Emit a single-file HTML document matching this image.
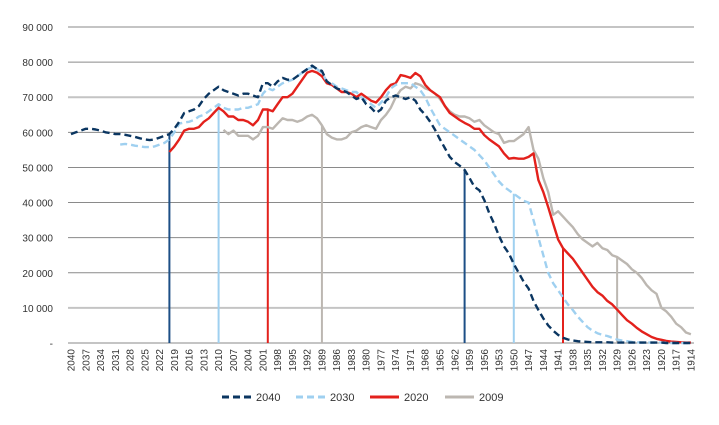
<!DOCTYPE html>
<html><head><meta charset="utf-8"><style>
html,body{margin:0;padding:0;background:#fff;}
svg{display:block;font-family:"Liberation Sans",sans-serif;}
</style></head><body>
<svg id="chart" width="719" height="425" viewBox="0 0 719 425"></svg>
<script>
const yTicks=[0,10,20,30,40,50,60,70,80,90];
const yTickLabels=["-","10 000","20 000","30 000","40 000","50 000","60 000","70 000","80 000","90 000"];
const seriesNames=["2040","2030","2020","2009"];
const seriesColors=["#0b3661","#9fd0f0","#e3211c","#bcb7b1"];
const seriesStart=[2040,2030,2020,2009];
const s2040=[59.5,60,60.5,61,61,60.8,60.5,60,59.8,59.5,59.5,59.3,59,58.7,58.3,58,57.8,58,58.5,59,
59.5,61,63,65.5,66,66.5,67.5,69.5,71,72,73,72,71.5,71,70.5,71,71,70.5,70,74,
74,73,74.5,75.5,75,75,76,77,78,79,78,77.5,74.5,73.5,72.5,72,71.5,70.5,69.5,70,
68,67,65.5,66.5,69,70,70.5,70,69.5,70,69,66.5,65,63,60.7,58,55.5,53,51.5,50.5,
49.3,47,44.5,43.5,40.7,37,34,30.5,27.5,25.5,22.5,20,17.5,15.5,12,9.4,7,5,3.5,2.3,
1.5,1,0.7,0.5,0.4,0.3,0.2,0.2,0.2,0.2,0.1,0.1,0.1,0.1,0.1,0.1,0.1,0.1,0.1,0.1,0.1,0,0,0,0,0,0];
const s2030=[56.5,56.7,56.5,56.2,56,55.8,55.8,56,56.5,57,
58,60,62.5,62.8,63,63.5,64.5,65,66,67,68,67,66.5,66.5,66.5,67,67,67.5,68,71,
72.5,72,73,74,74.5,75,76,77,78,78.5,78,77,74.5,74,73,72.5,72,71.5,71.5,70,
69,68,67,68.5,70,72.5,73.5,74,74,74,73,72,70,67,64.5,62,61,60,59,58,
57,56,55,53.5,52,50,48,46,44.5,43.5,42.5,41.5,40.5,40,35,30,25,20,17,15,
13,11,9.4,7.5,6,4.5,3.5,2.8,2.3,2,1.5,1,0.7,0.5,0.3,0.2,0.1,0.1,0.1,0.1,0.1,0.1,0,0,0,0,0];
const s2020=[54.4,56,58,60.5,61,61,61.5,63,64,65.5,67,66,64.5,64.5,63.5,63.5,63,62,63.5,66.5,
66.5,66,68,70,70,71,73,75,77,77.5,77,76,74,73.5,72.5,71.5,71.5,71,70,71,
70,69,68.5,70,72,73.5,74,76.3,76,75.5,76.9,76,73.5,72,71,70,67.5,65.5,64.5,63.5,
62.7,62,61,61,59.2,58,57,56,54,52.5,52.7,52.5,52.5,53,54,46.4,43,38.7,34,29.5,
27,25.5,24,22,20,18,16,14.5,13.5,12,11,9.5,8,6.5,5.5,4.3,3.3,2.5,1.7,1.2,0.9,0.6,0.4,0.3,0.2,0.1,0.1];
const s2009=[60.7,59.5,60.5,59,59,59,58,59,61.5,61.5,61,62.5,64,63.5,63.5,63,63.5,64.5,65,64,
62,59.5,58.5,58,58,58.5,60,60.5,61.5,62,61.5,61,63.5,65,67,70,72,73,72.5,74,
73.5,72.5,72,71,69.5,67.5,66,65,64.5,64.5,64,63,63.5,62,61,60,59.5,57,57.5,57.5,
58.5,59.5,61.5,55,52.5,47,43,36.5,37.5,36,34.5,33,31,29.5,28.5,27.5,28.5,27,26.5,25,
24.5,23.5,22.5,21,20,18.5,16.5,15,14,10,9,7.5,5.5,4.5,3,2.5];
const seriesValues=[s2040,s2030,s2020,s2009];
const firstYear=2040,lastYear=1914;

const NS="http://www.w3.org/2000/svg";
const svg=document.getElementById('chart');
const X0=71,XSTEP=4.92,PL=68,PR=694,Y0=343,YH=316,YMAX=90;
function xs(yr){return X0+(firstYear-yr)*XSTEP;}
function ys(v){return Y0-v/YMAX*YH;}
function mk(tag,attrs,parent){const e=document.createElementNS(NS,tag);for(const k in attrs)e.setAttribute(k,attrs[k]);(parent||svg).appendChild(e);return e;}

yTicks.forEach((t,i)=>{
  const light=(t===10||t===70);
  const g=mk('line',{x1:PL,x2:PR,y1:ys(t),y2:ys(t),stroke:light?'#c4c4c4':'#8a8a8a','stroke-width':light?2:1});
  
  
  const tx=mk('text',{x:53,y:ys(t)+4,'text-anchor':'end','font-size':10,fill:'#333'});
  tx.textContent=yTickLabels[i];
  
  
});
for(let yr=firstYear;yr>=lastYear;yr-=3){
  const x=xs(yr);
  const tx=mk('text',{x:0,y:0,'text-anchor':'end','font-size':10,fill:'#333',transform:`translate(${x+3.5},349) rotate(-90)`});
  tx.textContent=yr;
  
  
}
seriesNames.forEach((n,si)=>{
  [20,80].forEach(age=>{
    const yr=seriesStart[si]-age;
    const v=seriesValues[si][seriesStart[si]-yr];
    const l=mk('line',{x1:xs(yr),x2:xs(yr),y1:Y0,y2:ys(v),stroke:si===0?'#1d4f86':seriesColors[si],'stroke-width':2});
    
    
  });
});
[3,2,1,0].forEach(si=>{
  const pts=seriesValues[si].map((v,i)=>xs(seriesStart[si]-i).toFixed(1)+','+ys(v).toFixed(1)).join(' ');
  const attrs={points:pts,fill:'none',stroke:seriesColors[si],'stroke-width':2.4,'stroke-linejoin':'round'};
  if(si<2)attrs['stroke-dasharray']='7 4';
  const p=mk('polyline',attrs);
  
  
});
const legX=[222,296,370,445];
seriesNames.forEach((n,si)=>{
  const g=mk('g',{});
  
  
  const a={x1:legX[si],x2:legX[si]+29,y1:397,y2:397,stroke:seriesColors[si],'stroke-width':3};
  if(si<2)a['stroke-dasharray']='7 4';
  mk('line',a,g);
  const t=mk('text',{x:legX[si]+34,y:401,'font-size':11,fill:'#333'},g);
  t.textContent=n;
});
</script>
</body></html>
